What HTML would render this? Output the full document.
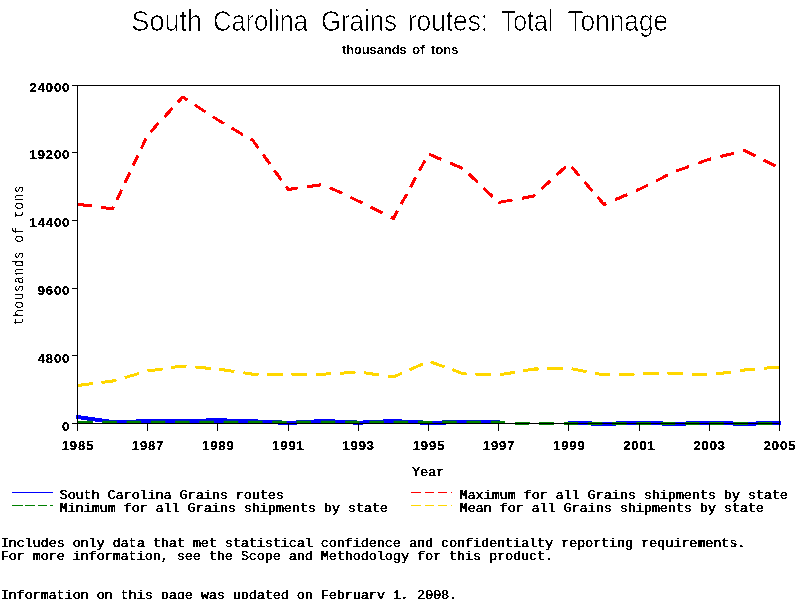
<!DOCTYPE html>
<html lang="en"><head><meta charset="utf-8"><title>South Carolina Grains routes: Total Tonnage</title>
<style>
html,body{margin:0;padding:0;background:#fff}
svg{display:block}
.t{font-family:"Liberation Sans",sans-serif;font-size:29px;fill:#000;stroke:#fff;stroke-width:.85px}
.s{font-family:"Liberation Sans",sans-serif;font-size:12.5px;font-weight:bold;fill:#000}
.k{font-family:"Liberation Sans",sans-serif;font-size:13px;font-weight:bold;fill:#000;letter-spacing:.9px}
.m{font-family:"Liberation Mono",monospace;font-size:13.35px;fill:#000;white-space:pre}
.y{font-family:"Liberation Mono",monospace;font-size:13px;letter-spacing:.46px;fill:#000}
</style></head><body>
<svg width="800" height="600" viewBox="0 0 800 600">
<defs>
<filter id="th" x="0" y="0" width="800" height="600" filterUnits="userSpaceOnUse" color-interpolation-filters="sRGB"><feComponentTransfer><feFuncA type="discrete" tableValues="0 0 1 1"/></feComponentTransfer></filter>
<filter id="bm" x="0" y="0" width="800" height="600" filterUnits="userSpaceOnUse" color-interpolation-filters="sRGB"><feConvolveMatrix order="3 1" kernelMatrix="0.65 1 0" divisor="1" edgeMode="none" preserveAlpha="false"/><feComponentTransfer><feFuncA type="discrete" tableValues="0 0 1 1"/></feComponentTransfer></filter>
<filter id="tk" x="0" y="0" width="800" height="600" filterUnits="userSpaceOnUse" color-interpolation-filters="sRGB"><feComponentTransfer><feFuncA type="discrete" tableValues="0 1 1"/></feComponentTransfer></filter>
<filter id="tt" x="0" y="0" width="800" height="70" filterUnits="userSpaceOnUse" color-interpolation-filters="sRGB"><feColorMatrix type="matrix" values="0 0 0 0 0  0 0 0 0 0  0 0 0 0 0  -.3333 -.3333 -.3333 1 0"/><feComponentTransfer><feFuncA type="discrete" tableValues="0 1 1 1"/></feComponentTransfer></filter>
</defs>
<rect width="800" height="600" fill="#fff"/>
<g filter="url(#tt)">
<text class="t" x="131.32" y="31" textLength="70.87" lengthAdjust="spacingAndGlyphs">South</text>
<text class="t" x="212.97" y="31" textLength="95.03999999999999" lengthAdjust="spacingAndGlyphs">Carolina</text>
<text class="t" x="320.91" y="31" textLength="76.13" lengthAdjust="spacingAndGlyphs">Grains</text>
<text class="t" x="407.87" y="31" textLength="80.29000000000002" lengthAdjust="spacingAndGlyphs">routes:</text>
<text class="t" x="500.88" y="31" textLength="52.27999999999997" lengthAdjust="spacingAndGlyphs">Total</text>
<text class="t" x="567.46" y="31" textLength="100.61000000000001" lengthAdjust="spacingAndGlyphs">Tonnage</text>
</g>
<g filter="url(#th)">
<text class="s" x="341.9" y="54" textLength="64.70" lengthAdjust="spacingAndGlyphs">thousands</text>
<text class="s" x="412" y="54" textLength="12.60" lengthAdjust="spacingAndGlyphs">of</text>
<text class="s" x="430.8" y="54" textLength="27.60" lengthAdjust="spacingAndGlyphs">tons</text>
<text class="y" transform="translate(22.7,325.3) rotate(-90) scale(1,1.13)" x="0" y="0">thousands of tons</text>
<polyline points="77.5,417 112.6,422 147.7,421.3 182.8,421 217.9,420.3 253.0,421.3 288.1,423 323.2,421 358.3,422.7 393.4,421 428.5,423 463.6,422 498.7,422" fill="none" stroke="#0000ff" stroke-width="4" stroke-linejoin="round" stroke-linecap="round"/>
<polyline points="568.9,423 604.0,423.8 639.1,423 674.2,423.8 709.3,423 744.4,423.8 779.5,423" fill="none" stroke="#0000ff" stroke-width="4" stroke-linejoin="round" stroke-linecap="round"/>
<path d="M77.5 204.3 L91.8 206.1 M101.3 207.4 L112.6 208.8 L113.6 206.7 M116.9 199.8 L121.7 189.6 M125.0 182.8 L129.8 172.5 M133.1 165.7 L138.0 155.5 M141.2 148.7 L146.1 138.4 M150.4 132.0 L158.7 123.1 M164.2 117.1 L172.5 108.2 M177.9 102.3 L182.8 97.0 L187.3 100.0 M194.6 104.7 L205.5 111.9 M212.8 116.6 L217.9 120.0 L224.0 123.5 M231.6 128.0 L243.0 134.7 M250.6 139.1 L253.0 140.5 L258.4 148.1 M263.0 154.5 L269.9 164.0 M274.4 170.4 L281.3 180.0 M285.9 186.4 L288.1 189.5 L297.7 188.1 M307.2 186.8 L321.4 184.8 M329.8 187.6 L342.1 193.4 M350.3 197.2 L358.3 201.0 L362.5 203.1 M370.6 207.1 L382.6 213.1 M390.7 217.1 L393.4 218.5 L397.6 210.7 M401.3 204.0 L406.8 193.9 M410.4 187.2 L415.9 177.2 M419.5 170.5 L425.0 160.4 M428.9 154.2 L441.5 159.5 M449.9 163.0 L462.6 168.3 M468.8 173.8 L477.7 182.4 M483.7 188.1 L492.6 196.6 M498.5 202.3 L498.7 202.5 L512.5 199.9 M521.9 198.2 L533.8 196.0 L535.2 194.7 M541.3 189.1 L550.5 180.7 M556.6 175.1 L565.7 166.6 M571.4 166.7 L579.3 175.8 M584.5 181.9 L592.4 191.0 M597.6 197.1 L604.0 204.5 L606.4 203.5 M614.8 199.9 L627.4 194.5 M635.8 190.9 L639.1 189.5 L648.0 185.0 M656.0 181.0 L668.0 174.9 M676.1 171.1 L689.2 166.4 M698.0 163.3 L709.3 159.2 L711.1 158.8 M720.3 156.5 L734.1 153.1 M743.2 150.8 L744.4 150.5 L755.4 156.0 M763.5 160.0 L775.6 166.0" fill="none" stroke="#ff0000" stroke-width="3" stroke-linejoin="round"/>
<path d="M77.5 385.5 L92.8 383.5 M101.4 382.4 L112.6 381.0 L116.5 379.9 M124.7 377.6 L139.2 373.4 M147.4 371.1 L147.7 371.0 L162.6 368.9 M171.2 367.6 L182.8 366.0 L186.5 366.3 M195.2 367.1 L210.6 368.4 M219.3 369.2 L234.5 371.5 M243.2 372.8 L253.0 374.2 L258.5 374.2 M267.2 374.2 L282.7 374.2 M291.5 374.2 L307.0 374.2 M315.8 374.2 L323.2 374.2 L331.3 373.7 M340.0 373.2 L355.5 372.2 M364.1 372.8 L379.4 375.0 M388.0 376.2 L393.4 377.0 L402.0 373.2 M409.5 369.8 L422.8 363.8 M430.4 361.9 L444.4 366.9 M452.4 369.7 L463.6 373.8 L466.7 373.9 M475.4 374.2 L490.9 374.7 M499.7 374.8 L514.8 372.3 M523.3 370.8 L533.8 369.0 L538.6 368.9 M547.3 368.7 L562.8 368.4 M571.5 368.8 L586.5 371.6 M595.0 373.3 L604.0 375.0 L610.2 374.8 M619.0 374.5 L634.5 373.9 M643.3 373.7 L658.8 373.5 M667.5 373.3 L674.2 373.2 L683.0 373.7 M691.8 374.1 L707.3 374.9 M715.9 374.1 L731.1 371.9 M739.8 370.7 L744.4 370.0 L755.1 369.1 M763.8 368.3 L779.2 367.0" fill="none" stroke="#ffd700" stroke-width="3" stroke-linejoin="round"/>
<path d="M78.0 422.3 L92.5 422.3 M102.3 422.3 L116.8 422.3 M126.6 422.3 L141.1 422.3 M150.8 422.3 L165.3 422.3 M175.1 422.3 L189.6 422.3 M199.4 422.3 L213.9 422.3 M223.7 422.3 L238.2 422.3 M248.0 422.3 L262.5 422.3 M272.2 422.3 L286.7 422.3 M296.5 422.3 L311.0 422.3 M320.8 422.3 L335.3 422.3 M345.1 422.3 L359.6 422.3 M369.4 422.3 L383.9 422.3 M393.6 422.3 L408.1 422.3 M417.9 422.3 L432.4 422.3 M442.2 422.3 L456.7 422.3 M466.5 422.3 L481.0 422.3 M490.8 422.3 L498.0 422.3 L505.3 422.5 M515.0 422.9 L529.5 423.4 M539.3 423.5 L553.8 423.5 M563.6 423.5 L578.1 423.5 M587.8 423.5 L602.3 423.5 M612.1 423.5 L626.6 423.5 M636.4 423.5 L650.9 423.5 M660.7 423.5 L675.2 423.5 M685.0 423.5 L699.5 423.5 M709.2 423.5 L723.7 423.5 M733.5 423.5 L748.0 423.5 M757.8 423.5 L772.3 423.5" fill="none" stroke="#008000" stroke-width="3"/>
<g shape-rendering="crispEdges" stroke="#000" stroke-width="1" fill="none">
<rect x="77.5" y="85.5" width="702" height="338"/>
<line x1="72" y1="423.5" x2="77" y2="423.5"/>
<line x1="72" y1="355.5" x2="77" y2="355.5"/>
<line x1="72" y1="288.5" x2="77" y2="288.5"/>
<line x1="72" y1="220.5" x2="77" y2="220.5"/>
<line x1="72" y1="152.5" x2="77" y2="152.5"/>
<line x1="72" y1="85.5" x2="77" y2="85.5"/>
<line x1="77.5" y1="424" x2="77.5" y2="431"/>
<line x1="147.5" y1="424" x2="147.5" y2="431"/>
<line x1="217.5" y1="424" x2="217.5" y2="431"/>
<line x1="288.5" y1="424" x2="288.5" y2="431"/>
<line x1="358.5" y1="424" x2="358.5" y2="431"/>
<line x1="428.5" y1="424" x2="428.5" y2="431"/>
<line x1="498.5" y1="424" x2="498.5" y2="431"/>
<line x1="568.5" y1="424" x2="568.5" y2="431"/>
<line x1="639.5" y1="424" x2="639.5" y2="431"/>
<line x1="709.5" y1="424" x2="709.5" y2="431"/>
<line x1="779.5" y1="424" x2="779.5" y2="431"/>
</g>
</g>
<g filter="url(#tk)">
<text class="k" x="70.2" y="430.5" text-anchor="end">0</text>
<text class="k" x="70.2" y="363.0" text-anchor="end">4800</text>
<text class="k" x="70.2" y="295.2" text-anchor="end">9600</text>
<text class="k" x="70.2" y="227.2" text-anchor="end">14400</text>
<text class="k" x="70.2" y="159.2" text-anchor="end">19200</text>
<text class="k" x="70.2" y="92.2" text-anchor="end">24000</text>
<text class="k" x="77.9" y="449.5" text-anchor="middle">1985</text>
<text class="k" x="148.1" y="449.5" text-anchor="middle">1987</text>
<text class="k" x="218.3" y="449.5" text-anchor="middle">1989</text>
<text class="k" x="288.5" y="449.5" text-anchor="middle">1991</text>
<text class="k" x="358.7" y="449.5" text-anchor="middle">1993</text>
<text class="k" x="428.9" y="449.5" text-anchor="middle">1995</text>
<text class="k" x="499.1" y="449.5" text-anchor="middle">1997</text>
<text class="k" x="569.3" y="449.5" text-anchor="middle">1999</text>
<text class="k" x="639.5" y="449.5" text-anchor="middle">2001</text>
<text class="k" x="709.7" y="449.5" text-anchor="middle">2003</text>
<text class="k" x="779.9" y="449.5" text-anchor="middle">2005</text>
</g>
<g filter="url(#bm)">
<text class="m" x="412.6" y="475.5">Year</text>
</g>
<g filter="url(#th)">
<g shape-rendering="crispEdges" fill="none" stroke-width="1">
<line x1="12" y1="492.5" x2="53" y2="492.5" stroke="#0000ff"/>
<line x1="12" y1="505.5" x2="53" y2="505.5" stroke="#008000" stroke-dasharray="10.5 2.5 10 3 9.5 3 2.5 9"/>
<line x1="411" y1="492.5" x2="452" y2="492.5" stroke="#ff0000" stroke-dasharray="10 4 9 4 9 4 1 9"/>
<line x1="411" y1="505.5" x2="452" y2="505.5" stroke="#ffd700" stroke-dasharray="10 4 9 4 9 4 1 9"/>
</g>
</g>
<g filter="url(#bm)">
<text class="m" x="60" y="498.9">South Carolina Grains routes</text>
<text class="m" x="60" y="512.1">Minimum for all Grains shipments by state</text>
<text class="m" x="460" y="498.9">Maximum for all Grains shipments by state</text>
<text class="m" x="460" y="512.1">Mean for all Grains shipments by state</text>
<text class="m" x="1" y="547.2">Includes only data that met statistical confidence and confidentialty reporting requirements.</text>
<text class="m" x="1" y="560.4">For more information, see the Scope and Methodology for this product.</text>
<text class="m" x="1" y="599.1">Information on this page was updated on February 1, 2008.</text>
</g>
<rect x="0" y="599" width="800" height="1" fill="#fff"/>
</svg>
</body></html>
